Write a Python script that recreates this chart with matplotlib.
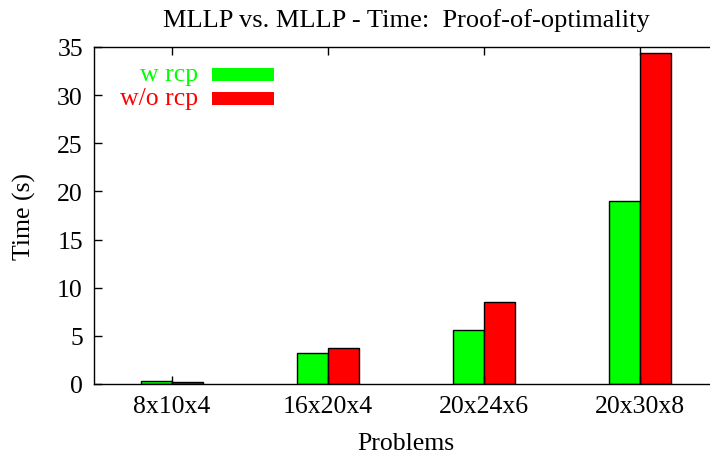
import numpy as np
import matplotlib.pyplot as plt
from matplotlib.patches import Rectangle

problems = ['8x10x4', '16x20x4', '20x24x6', '20x30x8']
w_rcp = [0.3, 3.2, 5.6, 19.0]
wo_rcp = [0.25, 3.7, 8.5, 34.4]
series_names = ['w rcp', 'w/o rcp']
series_colors = ['#00ff00', '#ff0000']

plt.rcParams['font.family'] = ['Liberation Serif', 'DejaVu Serif']

W, H = 710, 460
fig = plt.figure(figsize=(W / 100, H / 100), dpi=100)
# plot box in pixels: left 94, right 718 (clipped), top 48, bottom 385
ax = fig.add_axes([94 / W, (H - 385) / H, 624 / W, 337 / H])

x = np.arange(len(problems))
bw = 0.2
ax.bar(x - bw / 2, w_rcp, bw, color=series_colors[0], edgecolor='black', linewidth=1)
ax.bar(x + bw / 2, wo_rcp, bw, color=series_colors[1], edgecolor='black', linewidth=1)

ax.set_xlim(-0.5, 3.5)
ax.set_ylim(0, 35)
ax.set_yticks(range(0, 36, 5))
ax.set_xticks(x)
ax.set_xticklabels(problems)
ax.tick_params(direction='in', length=6, width=1, labelsize=18.5,
               top=True, right=True, pad=8)
for s in ax.spines.values():
    s.set_linewidth(1)

ax.set_title('MLLP vs. MLLP - Time:  Proof-of-optimality', fontsize=19, pad=15)
ax.set_xlabel('Problems', fontsize=18.5, labelpad=11)
ax.set_ylabel('Time (s)', fontsize=18.5, labelpad=15)

# gnuplot-style key: right-aligned text, then a colour swatch
for i, (name, col) in enumerate(zip(series_names, series_colors)):
    yc = 75 + i * 24
    fig.text(198 / W, 1 - yc / H, name, color=col, fontsize=18.5,
             ha='right', va='center')
    fig.add_artist(Rectangle((212 / W, 1 - (yc + 6.5) / H), 62 / W, 13 / H,
                             transform=fig.transFigure, facecolor=col,
                             edgecolor='none'))

fig.savefig('out.png', dpi=100)
